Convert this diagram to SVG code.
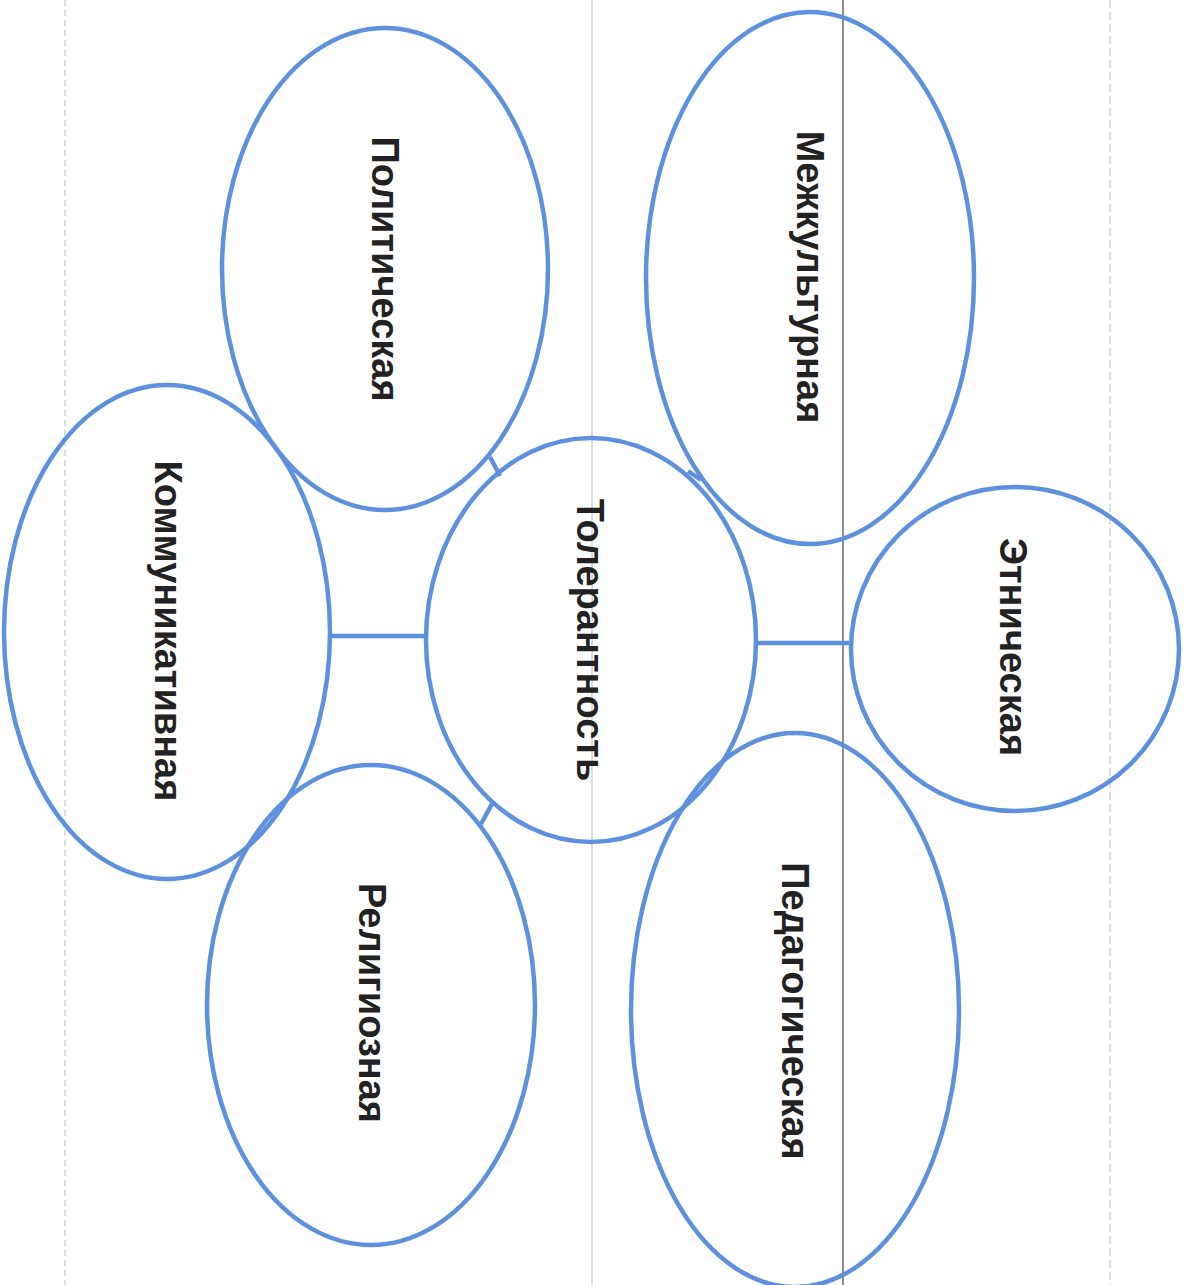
<svg xmlns="http://www.w3.org/2000/svg" width="1187" height="1285" viewBox="0 0 1187 1285">
<style>
.n{fill:none;stroke:#5e91dd;stroke-width:4.5}
.c{stroke:#5e91dd;stroke-width:4.5;fill:none}
.t{font-family:"Liberation Sans",Arial,sans-serif;font-weight:bold;font-size:38px;fill:#222;text-anchor:middle;dominant-baseline:central}
.scan{stroke:#bbb;stroke-width:1}
</style>
<rect width="1187" height="1285" fill="#fff"/>
<g id="scan-lines">
<line class="scan" x1="65" y1="0" x2="65" y2="1285" stroke-dasharray="6 4" stroke="#ddd"/>
<line class="scan" x1="592" y1="0" x2="592" y2="1285"/>
<line x1="843" y1="0" x2="843" y2="1285" stroke="#444" stroke-width="1.2"/>
<line class="scan" x1="1110" y1="0" x2="1110" y2="1285" stroke-dasharray="8 4"/>
</g>
<g id="connectors">
<line class="c" x1="490" y1="457" x2="500" y2="476"/>
<line class="c" x1="688" y1="471" x2="701" y2="480"/>
<line class="c" x1="330" y1="636" x2="427" y2="636"/>
<line class="c" x1="755" y1="643" x2="849" y2="643"/>
<line class="c" x1="493" y1="802" x2="481" y2="824"/>
</g>
<g id="center">
<ellipse class="n" cx="591" cy="640" rx="165" ry="202" fill="#fff"/>
<text class="t" transform="translate(590,640) rotate(90)">Толерантность</text>
</g>
<g id="political">
<ellipse class="n" cx="385" cy="269" rx="163" ry="241"/>
<text class="t" transform="translate(385,269) rotate(90)">Политическая</text>
</g>
<g id="intercultural">
<ellipse class="n" cx="810" cy="278" rx="164" ry="266"/>
<text class="t" transform="translate(810,277) rotate(90)">Межкультурная</text>
</g>
<g id="communicative">
<ellipse class="n" cx="167" cy="632" rx="163" ry="247"/>
<text class="t" transform="translate(168,631) rotate(90)">Коммуникативная</text>
</g>
<g id="ethnic">
<ellipse class="n" cx="1015" cy="649" rx="164" ry="162"/>
<text class="t" transform="translate(1013,647) rotate(90)">Этническая</text>
</g>
<g id="religious">
<ellipse class="n" cx="371" cy="1005" rx="164" ry="240"/>
<text class="t" transform="translate(372,1003) rotate(90)">Религиозная</text>
</g>
<g id="pedagogical">
<ellipse class="n" cx="795" cy="1010" rx="164" ry="277"/>
<text class="t" transform="translate(795,1011) rotate(90)">Педагогическая</text>
</g>
</svg>
